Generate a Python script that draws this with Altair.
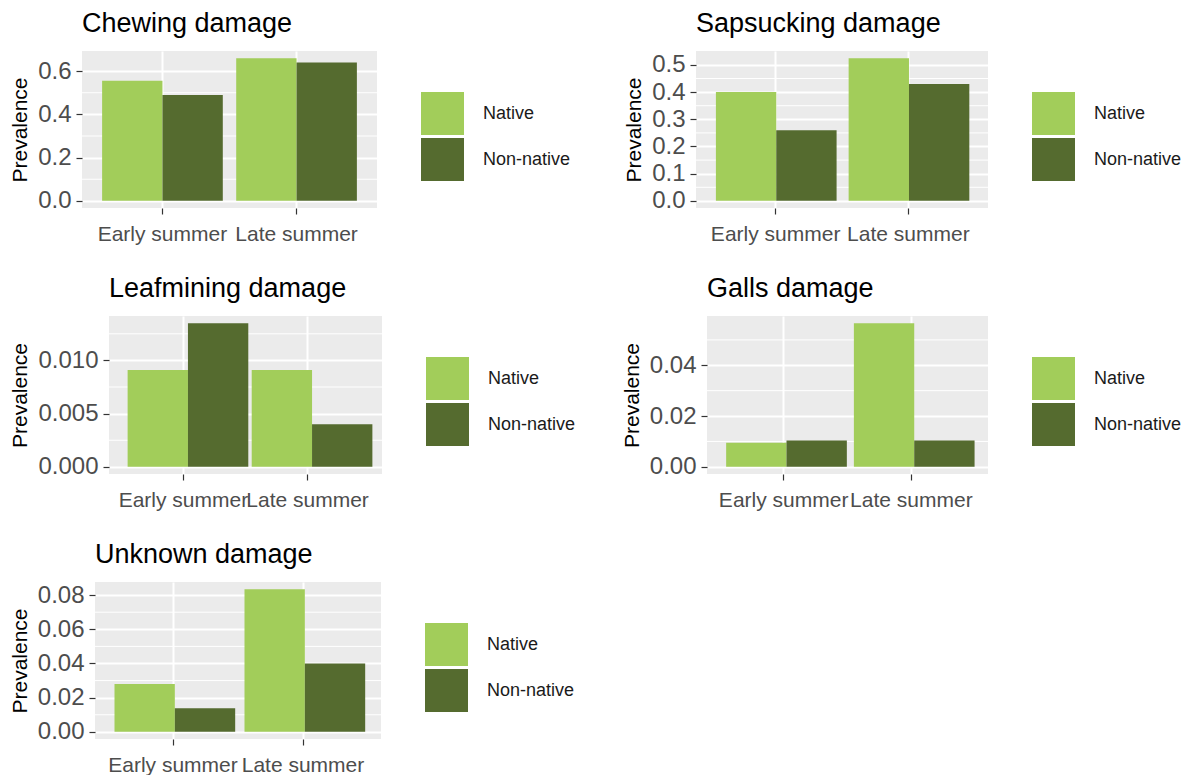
import altair as alt
import pandas as pd

# Seasons on the x axis and plant origin for the grouped bars
seasons = ["Early summer", "Late summer"]
origins = ["Native", "Non-native"]
origin_colors = ["#A2CD5A", "#556B2F"]

# Prevalence per damage type: [Early summer, Late summer]
chewing_native = [0.556, 0.660]
chewing_nonnative = [0.490, 0.640]
sapsucking_native = [0.400, 0.525]
sapsucking_nonnative = [0.260, 0.430]
leafmining_native = [0.0091, 0.0091]
leafmining_nonnative = [0.0135, 0.0040]
galls_native = [0.0095, 0.0566]
galls_nonnative = [0.0104, 0.0104]
unknown_native = [0.0280, 0.0835]
unknown_nonnative = [0.0138, 0.0400]

# Axis breaks (major labelled ticks and minor grid lines)
chewing_ticks = [0.0, 0.2, 0.4, 0.6]
chewing_minor = [0.1, 0.3, 0.5]
sapsucking_ticks = [0.0, 0.1, 0.2, 0.3, 0.4, 0.5]
sapsucking_minor = [0.05, 0.15, 0.25, 0.35, 0.45]
leafmining_ticks = [0.0, 0.005, 0.010]
leafmining_minor = [0.0025, 0.0075, 0.0125]
galls_ticks = [0.0, 0.02, 0.04]
galls_minor = [0.01, 0.03, 0.05]
unknown_ticks = [0.0, 0.02, 0.04, 0.06, 0.08]
unknown_minor = [0.01, 0.03, 0.05, 0.07]

FONT = "Liberation Sans"
PANEL_BG = "#EBEBEB"


def panel(title, native, nonnative, ticks, minor, fmt, width, height, legend_pad=0):
    df = pd.DataFrame({
        "Season": seasons * 2,
        "Origin": [origins[0]] * len(seasons) + [origins[1]] * len(seasons),
        "Prevalence": native + nonnative,
    })
    vmax = max(native + nonnative)
    yscale = alt.Scale(domain=[-0.05 * vmax, 1.05 * vmax], nice=False, zero=False)

    minor_grid = alt.Chart(pd.DataFrame({"v": minor})).mark_rule(
        color="white", strokeWidth=1
    ).encode(y=alt.Y("v:Q", scale=yscale, axis=None))

    bars = alt.Chart(df).mark_bar().encode(
        x=alt.X(
            "Season:N",
            sort=seasons,
            scale=alt.Scale(paddingInner=0.1, paddingOuter=0.15),
            axis=alt.Axis(
                title=None, labelAngle=0, labelFontSize=21, labelColor="#4D4D4D",
                tickColor="#333333", tickSize=6, tickWidth=1.2, labelPadding=9,
                domain=False, grid=True, gridColor="white", gridWidth=2,
                bandPosition=0.5, labelOverlap=False, labelLimit=400,
            ),
        ),
        xOffset=alt.XOffset(
            "Origin:N", sort=origins,
            scale=alt.Scale(paddingInner=0, paddingOuter=0),
        ),
        y=alt.Y(
            "Prevalence:Q",
            scale=yscale,
            axis=alt.Axis(
                title="Prevalence", orient="left", values=ticks, format=fmt,
                labelFontSize=24, labelColor="#4D4D4D",
                tickColor="#333333", tickSize=6, tickWidth=1.2, labelPadding=5,
                titleFontSize=21, titleFontWeight="normal", titleColor="#000000",
                titlePadding=7, domain=False, grid=True, gridColor="white",
                gridWidth=2, labelOverlap=False,
            ),
        ),
        y2=alt.datum(0),
        color=alt.Color(
            "Origin:N",
            scale=alt.Scale(domain=origins, range=origin_colors),
            legend=alt.Legend(
                title=None, orient="none",
                legendX=width + 44 - legend_pad, legendY=41 - legend_pad,
                symbolType="square", symbolSize=1849, symbolStrokeWidth=0,
                symbolOpacity=1, labelFontSize=18, labelColor="#1A1A1A",
                labelOffset=19, rowPadding=3, padding=legend_pad,
            ),
        ),
    )

    return alt.layer(minor_grid, bars).resolve_axis(y="independent").properties(
        width=width,
        height=height,
        title=alt.TitleParams(
            title, anchor="start", frame="group", fontSize=27,
            fontWeight="normal", color="#000000", offset=-8,
            baseline="alphabetic",
        ),
    )


def spacer():
    # thin blank cell that anchors each row at its left edge
    return alt.Chart(pd.DataFrame({"s": [0]})).mark_point(
        opacity=0, size=0, strokeWidth=0
    ).properties(
        width=1, height=1, view=alt.ViewBackground(fill="white", stroke=None)
    )


p_chew = panel("Chewing damage", chewing_native, chewing_nonnative,
               chewing_ticks, chewing_minor, ".1f", 295, 157, legend_pad=41)
p_sap = panel("Sapsucking damage", sapsucking_native, sapsucking_nonnative,
              sapsucking_ticks, sapsucking_minor, ".1f", 292, 157)
p_leaf = panel("Leafmining damage", leafmining_native, leafmining_nonnative,
               leafmining_ticks, leafmining_minor, ".3f", 273, 158, legend_pad=34)
p_gall = panel("Galls damage", galls_native, galls_nonnative,
               galls_ticks, galls_minor, ".2f", 281, 158)
p_unk = panel("Unknown damage", unknown_native, unknown_nonnative,
              unknown_ticks, unknown_minor, ".2f", 286, 157, legend_pad=41)


def indep(c):
    return c.resolve_scale(color="independent", x="independent", y="independent").resolve_legend(color="independent")


row1 = indep(alt.hconcat(spacer(), p_chew, p_sap, spacing=11))
row2 = indep(alt.hconcat(spacer(), p_leaf, p_gall, spacing=11))
row3 = indep(alt.hconcat(spacer(), p_unk, spacing=11))

chart = indep(alt.vconcat(row1, row2, row3, spacing=31)).properties(
    padding={"left": -3, "top": 10, "right": 5, "bottom": 0},
    background="white",
).configure(font=FONT).configure_view(fill=PANEL_BG, stroke=None)

chart.save("out.html", embed_options={"renderer": "svg", "actions": False})
